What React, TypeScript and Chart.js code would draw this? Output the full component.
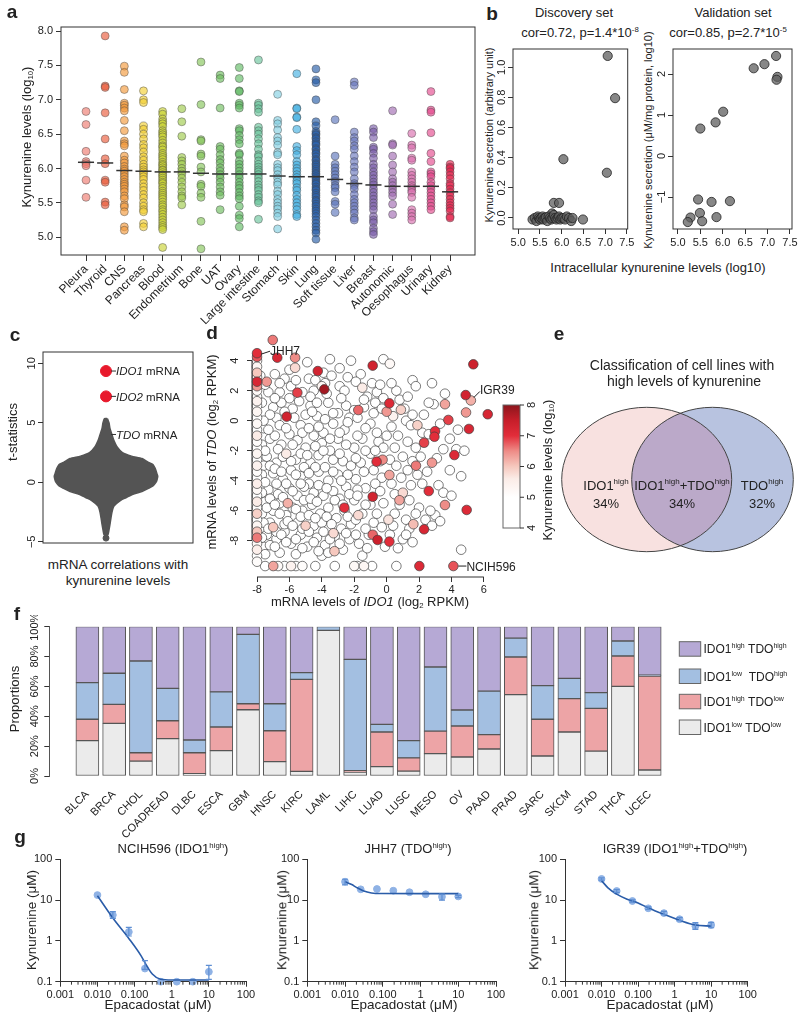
import React, { useEffect, useRef } from 'react';
import { Chart, registerables } from 'chart.js';

Chart.register(...registerables);
const FONT = '"Liberation Sans", Arial, Helvetica, sans-serif';
Chart.defaults.font.family = FONT;
Chart.defaults.color = '#222';

// ================= Panel a data =================
const aTissues = ['Pleura', 'Thyroid', 'CNS', 'Pancreas', 'Blood', 'Endometrium', 'Bone', 'UAT', 'Ovary', 'Large intestine', 'Stomach', 'Skin', 'Lung', 'Soft tissue', 'Liver', 'Breast', 'Autonomic', 'Oesophagus', 'Urinary', 'Kidney'];
const aColors = ['#ee7b70', '#ea5c3c', '#f39a3c', '#f2cf34', '#c9d335', '#9fcb4d', '#86c45a', '#6fbd5f', '#62bc66', '#6cc49c', '#84d0e2', '#45b0e2', '#285ea8', '#5d77bb', '#6a78bd', '#7d5fab', '#a16bb2', '#d86fae', '#e3498e', '#e5234d'];
const aPleura = [6.83, 6.64, 6.25, 6.10, 6.07, 6.04, 5.83, 5.58];
const aThyroid = [7.93, 7.20, 7.18, 6.81, 6.43, 6.14, 6.07, 5.83, 5.80, 5.51, 5.47];
const aCNS = [7.49, 7.40, 7.15, 6.95, 6.92, 6.88, 6.84, 6.70, 6.55, 6.40, 6.36, 6.33, 6.18, 6.12, 6.08, 6.03, 5.99, 5.96, 5.92, 5.88, 5.84, 5.80, 5.77, 5.74, 5.70, 5.66, 5.60, 5.56, 5.47, 5.44, 5.37, 5.15, 5.10];
const aPancreas = [7.13, 7.00, 6.96, 6.62, 6.57, 6.50, 6.43, 6.35, 6.30, 6.24, 6.17, 6.12, 6.06, 6.02, 5.98, 5.95, 5.92, 5.88, 5.84, 5.78, 5.73, 5.68, 5.62, 5.57, 5.50, 5.45, 5.40, 5.37, 5.20, 5.15];
const aBlood = [6.83, 6.79, 6.72, 6.68, 6.65, 6.61, 6.55, 6.52, 6.49, 6.46, 6.41, 6.37, 6.33, 6.31, 6.27, 6.22, 6.19, 6.16, 6.13, 6.09, 6.06, 6.04, 6.01, 5.98, 5.97, 5.94, 5.91, 5.89, 5.86, 5.83, 5.80, 5.78, 5.74, 5.71, 5.67, 5.64, 5.61, 5.58, 5.55, 5.51, 5.47, 5.44, 5.40, 5.37, 5.33, 5.29, 5.25, 5.21, 5.17, 5.14, 5.11, 4.85];
const aEndometrium = [6.87, 6.68, 6.47, 6.16, 6.11, 6.06, 6.00, 5.96, 5.92, 5.86, 5.80, 5.73, 5.66, 5.60, 5.57, 5.47];
const aBone = [7.55, 6.93, 6.42, 6.40, 6.21, 6.18, 6.02, 5.95, 5.77, 5.74, 5.64, 5.58, 5.23, 4.83];
const aUAT = [7.36, 7.31, 6.88, 6.32, 6.28, 6.20, 6.13, 6.08, 6.01, 5.96, 5.91, 5.86, 5.80, 5.73, 5.66, 5.61, 5.40];
const aOvary = [7.47, 7.31, 7.13, 7.12, 6.95, 6.92, 6.88, 6.58, 6.55, 6.48, 6.42, 6.36, 6.22, 6.20, 6.11, 6.06, 6.01, 5.96, 5.91, 5.86, 5.80, 5.75, 5.71, 5.65, 5.60, 5.56, 5.45, 5.32, 5.27, 5.15];
const aLargeInt = [7.58, 6.95, 6.92, 6.87, 6.82, 6.60, 6.55, 6.50, 6.43, 6.36, 6.28, 6.20, 6.17, 6.11, 6.06, 6.02, 5.98, 5.95, 5.91, 5.86, 5.81, 5.76, 5.72, 5.68, 5.62, 5.58, 5.53, 5.50, 5.26];
const aStomach = [7.08, 6.70, 6.65, 6.56, 6.45, 6.40, 6.34, 6.23, 6.20, 6.06, 6.01, 5.97, 5.91, 5.86, 5.80, 5.76, 5.67, 5.62, 5.55, 5.50, 5.45, 5.41, 5.35, 5.30, 5.12];
const aSkin = [7.38, 6.88, 6.87, 6.75, 6.74, 6.57, 6.32, 6.26, 6.20, 6.10, 6.05, 6.00, 5.96, 5.91, 5.87, 5.82, 5.78, 5.72, 5.68, 5.61, 5.55, 5.50, 5.45, 5.40, 5.33, 5.30];
const aLung = [7.45, 7.29, 7.25, 7.00, 6.68, 6.62, 6.54, 6.51, 6.49, 6.45, 6.43, 6.39, 6.36, 6.34, 6.29, 6.27, 6.23, 6.21, 6.17, 6.13, 6.11, 6.07, 6.05, 6.02, 5.99, 5.96, 5.93, 5.91, 5.88, 5.85, 5.82, 5.79, 5.77, 5.73, 5.70, 5.68, 5.64, 5.61, 5.58, 5.54, 5.52, 5.48, 5.45, 5.41, 5.38, 5.34, 5.30, 5.25, 5.20, 5.15, 5.10, 5.06, 4.97];
const aSoftTissue = [6.71, 6.18, 6.06, 6.01, 5.96, 5.91, 5.86, 5.81, 5.75, 5.72, 5.66, 5.52, 5.48, 5.36];
const aLiver = [7.26, 7.21, 6.53, 6.45, 6.40, 6.33, 6.28, 6.18, 6.10, 6.02, 5.95, 5.85, 5.78, 5.75, 5.70, 5.62, 5.55, 5.50, 5.45, 5.40, 5.35, 5.28, 5.25];
const aBreast = [6.58, 6.53, 6.45, 6.31, 6.28, 6.22, 6.15, 6.06, 6.01, 5.95, 5.90, 5.85, 5.80, 5.76, 5.70, 5.65, 5.60, 5.55, 5.50, 5.45, 5.40, 5.30, 5.25, 5.21, 5.13, 5.08, 5.04];
const aAutonomic = [6.84, 6.36, 6.34, 6.18, 6.05, 5.95, 5.85, 5.80, 5.75, 5.70, 5.65, 5.60, 5.48, 5.33];
const aOesophagus = [6.51, 6.34, 6.30, 6.15, 6.12, 5.95, 5.90, 5.85, 5.80, 5.75, 5.72, 5.68, 5.65, 5.58, 5.40, 5.35, 5.30, 5.25];
const aUrinary = [7.12, 6.85, 6.82, 6.52, 6.22, 6.10, 5.95, 5.92, 5.88, 5.80, 5.75, 5.70, 5.65, 5.60, 5.55, 5.50, 5.45, 5.40];
const aKidney = [6.06, 6.02, 6.00, 5.95, 5.90, 5.85, 5.78, 5.75, 5.70, 5.65, 5.60, 5.55, 5.50, 5.46, 5.42, 5.38, 5.30, 5.28];
const aValues = [aPleura, aThyroid, aCNS, aPancreas, aBlood, aEndometrium, aBone, aUAT, aOvary, aLargeInt, aStomach, aSkin, aLung, aSoftTissue, aLiver, aBreast, aAutonomic, aOesophagus, aUrinary, aKidney];
const aMedians = [6.09, 6.08, 5.97, 5.96, 5.95, 5.95, 5.93, 5.92, 5.92, 5.92, 5.89, 5.88, 5.88, 5.84, 5.78, 5.76, 5.74, 5.74, 5.74, 5.66];
const aYTicks = [5.0, 5.5, 6.0, 6.5, 7.0, 7.5, 8.0];

// ================= Panel b data =================
const bDiscX = [7.06, 7.23, 6.04, 7.04, 5.82, 5.94, 6.49, 5.78, 5.33, 5.38, 5.42, 5.45, 5.48, 5.50, 5.53, 5.56, 5.58, 5.61, 5.64, 5.67, 5.70, 5.73, 5.76, 5.79, 5.82, 5.85, 5.88, 5.91, 5.94, 5.97, 6.00, 6.04, 6.08, 6.12, 6.17, 6.22, 6.25];
const bDiscY = [1.075, 0.795, 0.39, 0.30, 0.10, 0.10, -0.01, 0.03, -0.01, 0.0, -0.02, 0.01, 0.0, -0.01, 0.0, 0.01, -0.01, 0.0, 0.005, -0.02, 0.01, 0.0, -0.01, 0.0, 0.02, 0.0, -0.01, 0.0, 0.01, -0.01, 0.0, 0.0, -0.01, 0.01, 0.0, -0.02, 0.0];
const bValX = [7.19, 6.93, 6.69, 7.22, 7.20, 6.01, 5.84, 5.50, 5.45, 5.75, 6.16, 5.49, 5.86, 5.28, 5.22, 5.54];
const bValY = [2.44, 2.24, 2.14, 1.93, 1.86, 1.08, 0.82, 0.67, -1.06, -1.12, -1.10, -1.39, -1.49, -1.50, -1.61, -1.59];
const bXTicks = [5.0, 5.5, 6.0, 6.5, 7.0, 7.5];
const bDiscYTicks = [0, 0.2, 0.4, 0.6, 0.8, 1.0];
const bDiscYLabels = ['0.0', '0.2', '0.4', '0.6', '0.8', '1.0'];
const bValYTicks = [-1, 0, 1, 2];
const bValYLabels = ['\u22121', '0', '1', '2'];

// ================= Panel c data =================
const cViolinT = [5.35, 5.0, 4.5, 4.0, 3.5, 3.0, 2.5, 2.2, 2.0, 1.7, 1.5, 1.2, 1.0, 0.7, 0.5, 0.2, 0.0, -0.3, -0.5, -0.8, -1.0, -1.3, -1.5, -2.0, -2.5, -3.0, -3.5, -4.0, -4.4];
const cViolinHW = [0.01, 0.02, 0.027, 0.04, 0.053, 0.073, 0.11, 0.17, 0.24, 0.28, 0.313, 0.327, 0.333, 0.34, 0.345, 0.34, 0.333, 0.313, 0.283, 0.233, 0.18, 0.133, 0.1, 0.053, 0.04, 0.033, 0.027, 0.02, 0.013];
const cOutlierT = [-4.69];
const cGenes = ['IDO1', 'IDO2', 'TDO'];
const cGeneT = [9.35, 7.22, 4.02];
const cYTicks = [-5, 0, 5, 10];
const cYLabels = ['\u22125', '0', '5', '10'];

// ================= Panel d data =================
// [IDO1 log2 RPKM, TDO log2 RPKM, kynurenine log10]
const dColumn = [[-8, 4.5, 7.0], [-8, 4.25, 6.8], [-8, 4.0, 5.2], [-8, 3.6, 5.3], [-8, 3.2, 6.0], [-8, 2.9, 5.5], [-8, 2.6, 7.2], [-8, 2.3, 6.4], [-8, 2.0, 5.2], [-8, 1.6, 5.0], [-8, 1.3, 5.4], [-8, 1.0, 5.1], [-8, 0.6, 5.3], [-8, 0.2, 5.0], [-8, -0.2, 5.2], [-8, -0.6, 5.0], [-8, -1.0, 5.6], [-8, -1.4, 5.1], [-8, -1.8, 5.0], [-8, -2.2, 5.3], [-8, -2.6, 5.0], [-8, -3.0, 5.4], [-8, -3.4, 5.1], [-8, -3.8, 5.0], [-8, -4.2, 5.5], [-8, -4.6, 5.2], [-8, -5.0, 5.0], [-8, -5.4, 5.6], [-8, -5.8, 5.1], [-8, -6.2, 5.9], [-8, -6.6, 5.0], [-8, -7.0, 5.3], [-8, -7.4, 6.0], [-8, -7.8, 6.6], [-8, -8.2, 5.2], [-8, -8.6, 5.5], [-8, -9.0, 5.0], [-8, -9.4, 5.1]];
const dFloor = [[-7.5, -9.69, 5.0], [-7.0, -9.69, 6.3], [-6.7, -9.69, 5.2], [-6.3, -9.69, 5.0], [-5.9, -9.69, 5.4], [-5.6, -9.69, 5.0], [-5.2, -9.69, 5.1], [-4.4, -9.69, 5.0], [-3.2, -9.69, 5.0], [-2.0, -9.69, 5.2], [-1.8, -9.69, 5.0], [-1.4, -9.69, 5.3], [-0.9, -9.69, 5.0], [0.6, -9.69, 5.0], [2.02, -9.69, 7.1], [4.12, -9.69, 6.8]];
const dCloudWhite = [[-6.0, 3.4, 5], [-4.9, 3.9, 5], [-3.5, 4.1, 5], [-2.2, 4.0, 5], [-0.2, 4.1, 5], [0.2, 3.8, 5.2], [-6.3, 2.8, 5], [-2.4, 2.9, 5], [-1.6, 3.1, 5], [1.6, 2.7, 5], [1.8, 2.3, 5], [-3.8, 2.5, 5], [-4.0, 2.3, 5.3],
  [-7.3, 1.9, 5], [-6.6, 1.9, 5], [-6.0, 1.5, 5], [-5.2, 1.9, 5], [-4.5, 2.0, 5], [-2.9, 2.3, 5], [-1.5, 2.2, 5.6], [-0.6, 1.9, 5], [0.6, 2.0, 5], [-1.2, 1.6, 5], [-0.2, 1.5, 5], [2.9, 1.1, 5], [2.6, 1.2, 5], [-2.5, 1.0, 5], [-3.6, 1.2, 5],
  [-7.0, 0.9, 5], [-6.5, 1.2, 5], [-5.8, 0.8, 5], [-5.0, 0.4, 5], [-4.3, 0.3, 5], [-3.0, 0.5, 5], [-2.0, 0.7, 5], [-1.4, 0.9, 5], [-0.8, 0.5, 5], [0.4, 0.3, 5.4], [1.2, 0.0, 5], [1.5, -0.3, 5], [2.2, -0.8, 5], [2.6, -0.9, 5], [-6.8, 0.2, 5], [-3.3, -0.2, 5], [-2.6, -0.6, 5],
  [-7.2, -1.2, 5], [-6.5, -1.6, 5], [-6.0, -0.9, 5], [-5.5, -1.3, 5], [-5.0, -1.8, 5], [-4.5, -1.0, 5], [-4.0, -1.5, 5], [-3.5, -2.0, 5], [-3.0, -1.2, 5], [-2.0, -1.8, 5], [-1.5, -1.2, 5], [-1.0, -2.2, 5], [-0.5, -1.4, 5], [0.5, -1.8, 5], [1.0, -2.4, 5], [-7.4, -2.4, 5], [-6.8, -2.8, 5], [-6.2, -2.2, 5.6], [-5.6, -2.6, 5], [-4.7, -2.8, 5], [-4.2, -2.3, 5], [-2.7, -2.7, 5], [-2.2, -3.0, 5], [-1.6, -2.8, 5], [3.5, -1.9, 5], [4.3, -1.9, 5], [1.6, -2.7, 5],
  [-7.0, -3.5, 5], [-6.4, -3.9, 5], [-5.9, -3.3, 5], [-5.3, -3.7, 5], [-4.8, -4.2, 5], [-4.2, -3.4, 5], [-3.6, -4.0, 5], [-3.0, -3.6, 5], [-2.5, -4.4, 5], [-1.9, -3.9, 5], [-1.3, -4.5, 5], [-0.8, -3.3, 5], [0.3, -4.2, 5], [0.9, -3.8, 5], [1.9, -3.6, 5], [-7.3, -4.6, 5], [-6.7, -4.9, 5], [-6.0, -4.5, 5], [-5.5, -5.0, 5], [-4.5, -4.8, 5], [-3.9, -5.0, 5], [-3.3, -4.7, 5], [3.2, -4.3, 5], [3.5, -4.8, 5], [4.6, -3.7, 5],
  [-7.5, -5.4, 5], [-7.0, -6.0, 5], [-6.6, -5.5, 5], [-6.2, -6.3, 5], [-5.8, -5.8, 5], [-5.2, -6.0, 5], [-4.6, -5.6, 5], [-4.1, -6.2, 5], [-3.6, -5.8, 5], [-3.1, -6.5, 5], [-2.6, -6.0, 5], [-2.0, -5.3, 5], [-1.5, -6.2, 5], [-1.0, -5.6, 5], [-0.2, -5.5, 5], [0.5, -6.2, 5], [1.2, -6.6, 5], [2.0, -5.8, 5], [-7.2, -6.8, 5], [-5.5, -6.8, 5], [-4.5, -7.0, 5], [-2.2, -6.9, 5], [-0.8, -6.8, 5], [1.4, -7.2, 5], [3.0, -6.3, 5], [3.3, -6.7, 5],
  [-7.4, -7.6, 5], [-6.8, -7.9, 5], [-6.3, -7.4, 5], [-5.9, -8.2, 5], [-5.3, -7.6, 5], [-4.9, -8.4, 5], [-4.3, -7.8, 5], [-3.8, -8.3, 5], [-3.2, -7.7, 5], [-2.7, -8.6, 5], [-2.3, -7.9, 5], [-1.7, -8.2, 5], [-1.1, -7.6, 5], [0.2, -7.6, 5], [1.0, -7.9, 5], [-6.6, -8.8, 5], [-5.6, -8.9, 5], [-4.0, -9.0, 5], [-1.5, -9.0, 5], [4.6, -8.6, 5], [1.6, -8.1, 5],
  [-7.6, -0.5, 5], [-7.7, 1.2, 5], [-7.6, -3.0, 5], [-7.7, -6.2, 5], [-7.6, -8.4, 5], [-6.9, -1.0, 5], [-5.3, -0.3, 5], [-4.7, 1.0, 5], [-3.9, -0.8, 5], [-5.1, -4.4, 5], [-6.3, -6.9, 5], [-4.0, -6.8, 5], [-2.9, -5.2, 5], [-1.8, -4.6, 5], [-0.4, -2.7, 5], [0.0, -1.0, 5], [-1.0, -0.2, 5], [-2.3, 0.2, 5]];
const dCloudWhite2 = [[-7.8, 3.0, 5], [-7.5, 2.4, 5], [-7.2, 0.4, 5], [-7.6, 0.0, 5], [-7.3, -0.6, 5], [-7.7, -1.6, 5], [-7.5, -2.0, 5], [-7.2, -3.0, 5], [-7.7, -3.6, 5], [-7.5, -4.1, 5], [-7.7, -4.8, 5], [-7.2, -5.2, 5], [-7.4, -5.8, 5], [-7.6, -6.8, 5], [-7.3, -7.2, 5], [-7.7, -7.8, 5], [-7.2, -8.3, 5], [-7.5, -8.9, 5],
  [-6.9, 3.1, 5], [-6.6, 2.5, 5], [-6.9, 1.5, 5], [-6.3, 0.6, 5], [-6.6, -0.3, 5], [-6.2, -0.5, 5], [-6.7, -1.9, 5], [-6.4, -2.4, 5], [-6.9, -3.2, 5], [-6.5, -3.4, 5], [-6.2, -4.2, 5], [-6.8, -4.2, 5], [-6.4, -5.1, 5], [-6.9, -5.6, 5], [-6.6, -6.2, 5], [-6.1, -6.7, 5], [-6.8, -7.4, 5], [-6.5, -7.6, 5], [-6.2, -8.1, 5], [-6.9, -8.4, 5],
  [-5.9, 2.3, 5], [-5.6, 2.7, 5], [-5.4, 1.3, 5], [-5.7, 0.2, 5], [-5.2, -0.8, 5], [-5.8, -1.6, 5], [-5.3, -2.2, 5], [-5.9, -2.7, 5], [-5.1, -3.1, 5], [-5.6, -3.6, 5], [-5.3, -4.2, 5], [-5.8, -4.7, 5], [-5.1, -5.3, 5], [-5.6, -5.9, 5], [-5.3, -6.4, 5], [-5.8, -7.0, 5], [-5.2, -7.2, 5], [-5.6, -7.9, 5], [-5.2, -8.5, 5],
  [-4.8, 2.8, 5], [-4.4, 2.7, 5], [-4.7, 1.6, 5], [-4.3, 1.2, 5], [-4.6, 0.6, 5], [-4.2, -0.4, 5], [-4.8, -0.5, 5], [-4.4, -1.7, 5], [-4.9, -2.3, 5], [-4.4, -3.1, 5], [-4.8, -3.5, 5], [-4.2, -4.3, 5], [-4.7, -5.2, 5], [-4.3, -5.4, 5], [-4.8, -6.3, 5], [-4.4, -6.5, 5], [-4.8, -7.4, 5], [-4.5, -8.1, 5], [-4.2, -8.7, 5],
  [-3.9, 3.2, 5], [-3.4, 3.0, 5], [-3.7, 1.8, 5], [-3.3, 0.5, 5], [-3.8, 0.1, 5], [-3.5, -1.2, 5], [-3.9, -2.0, 5], [-3.3, -2.6, 5], [-3.8, -3.1, 5], [-3.3, -3.4, 5], [-3.7, -4.5, 5], [-3.2, -5.3, 5], [-3.7, -6.4, 5], [-3.4, -6.9, 5], [-3.9, -7.4, 5], [-3.5, -7.9, 5], [-3.6, -8.8, 5],
  [-2.9, 3.5, 5], [-2.6, 2.0, 5], [-2.8, 1.5, 5], [-2.4, -0.1, 5], [-2.9, -0.8, 5], [-2.5, -1.6, 5], [-2.9, -2.2, 5], [-2.4, -3.6, 5], [-2.8, -4.0, 5], [-2.3, -4.9, 5], [-2.7, -5.6, 5], [-2.4, -6.4, 5], [-2.8, -7.2, 5], [-2.5, -7.5, 5], [-2.9, -8.2, 5],
  [-1.9, 2.6, 5], [-1.4, 1.4, 5], [-1.8, 0.2, 5], [-1.3, -0.5, 5], [-1.8, -1.0, 5], [-1.3, -2.0, 5], [-1.9, -2.5, 5], [-1.4, -3.4, 5], [-1.8, -5.0, 5], [-1.3, -5.6, 5], [-1.9, -6.6, 5], [-1.3, -7.2, 5], [-1.9, -7.6, 5], [-1.2, -8.5, 5],
  [-0.9, 2.5, 5], [-0.4, 2.4, 5], [-0.7, 1.2, 5], [-0.3, 0.8, 5], [-0.6, -0.8, 5], [-0.2, -1.8, 5], [-0.7, -2.0, 5], [-0.3, -3.8, 5], [-0.7, -4.2, 5], [-0.4, -4.7, 5], [-0.6, -6.2, 5], [-0.3, -7.1, 5], [-0.1, -8.4, 5],
  [0.3, 2.5, 5], [0.8, 1.4, 5], [0.3, -0.4, 5], [0.7, -1.0, 5], [0.2, -2.6, 5], [0.6, -3.0, 5], [0.5, -4.9, 5], [0.8, -5.6, 5], [0.4, -7.0, 5], [0.7, -8.5, 5],
  [1.3, 1.6, 5], [1.1, 0.8, 5], [1.6, 0.4, 5], [1.3, -1.4, 5], [1.8, -1.8, 5], [1.3, -3.3, 5], [1.5, -4.3, 5], [1.4, -5.3, 5], [1.8, -6.2, 5], [1.2, -7.6, 5],
  [2.3, 0.4, 5], [2.1, -2.4, 5], [2.5, -3.4, 5], [2.2, -4.2, 5], [2.7, -6.0, 5], [2.4, -6.6, 5], [2.8, -7.0, 5], [3.3, -0.2, 5], [3.1, -2.5, 5], [3.9, -1.2, 5], [3.9, -3.3, 5], [4.0, -5.0, 5], [4.4, -0.6, 5], [4.8, -2.0, 5], [3.6, 1.8, 5], [2.8, 2.5, 5]];
const dCloudColored = [[-7.03, 5.38, 6.6], [-6.75, 4.2, 7.2], [-5.65, 4.2, 6.5], [-5.65, 3.53, 5.8], [-7.4, 2.6, 6.4], [-6.17, 0.27, 7.3], [-5.51, 1.87, 6.9], [-4.25, 3.31, 7.3], [-3.85, 2.09, 7.8], [-0.86, 3.67, 7.3], [0.17, 1.16, 7.1], [-1.75, 0.71, 6.7], [0.0, 0.6, 6.4], [0.88, 0.73, 5.9], [5.35, 3.76, 7.4], [4.88, 1.71, 7.3], [5.2, 1.35, 6.2], [6.24, 0.43, 7.2], [4.9, 0.55, 6.4], [3.81, 0.05, 6.9], [3.6, 1.1, 6.3], [5.08, -0.55, 7.2], [2.99, -0.7, 7.0], [2.95, -1.07, 7.0], [2.31, -1.47, 6.9], [4.18, -2.29, 7.1], [2.8, -2.8, 6.4], [1.81, -3.0, 6.6], [2.6, -4.69, 7.0], [3.6, -5.62, 6.5], [4.94, -5.95, 7.1], [2.31, -7.24, 7.2], [0.17, -8.06, 7.0], [-0.56, -7.95, 7.4], [-0.86, -7.6, 6.7], [-0.86, -5.07, 7.3], [-2.61, -5.8, 7.0], [-6.1, -5.5, 6.2], [-0.62, -2.73, 7.0], [-0.25, -2.6, 6.5], [-1.75, -6.3, 5.8], [0.17, -3.62, 6.3], [0.79, -5.3, 6.3], [1.9, -0.3, 5.9], [1.0, -4.8, 5.8], [-3.22, -8.7, 6.0], [1.65, -6.9, 6.1], [0.11, -6.6, 5.7], [-3.28, -7.5, 5.8], [-7.0, -7.1, 6.0], [-5.0, -7.0, 5.9]];
const dNamed = ['JHH7', 'IGR39', 'NCIH596'];
const dNamedX = [-8, 5.2, 4.12];
const dNamedY = [4.5, 1.35, -9.69];
const dXTicks = [-8, -6, -4, -2, 0, 2, 4, 6];
const dXLabels = ['-8', '-6', '-4', '-2', '0', '2', '4', '6'];
const dYTicks = [-8, -6, -4, -2, 0, 2, 4];
const dYLabels = ['-8', '-6', '-4', '-2', '0', '2', '4'];
const dCbValues = [4, 5, 5.6, 6, 6.5, 7, 7.5, 8];
const dCbColors = [[255, 255, 255], [255, 255, 255], [251, 236, 231], [246, 200, 190], [238, 140, 135], [226, 45, 58], [198, 30, 42], [140, 22, 28]];
const dCbTicks = [4, 5, 6, 7, 8];

// ================= Panel e data =================
const eSets = [[['IDO1', 'n'], ['high', 'sup']], [['IDO1', 'n'], ['high', 'sup'], ['+TDO', 'n'], ['high', 'sup']], [['TDO', 'n'], ['high', 'sup']]];
const ePct = [34, 34, 32];

// ================= Panel f data =================
const fCancers = ['BLCA', 'BRCA', 'CHOL', 'COADREAD', 'DLBC', 'ESCA', 'GBM', 'HNSC', 'KIRC', 'LAML', 'LIHC', 'LUAD', 'LUSC', 'MESO', 'OV', 'PAAD', 'PRAD', 'SARC', 'SKCM', 'STAD', 'THCA', 'UCEC'];
const fLowLow = [23.7, 35.3, 10, 25, 1.6, 17, 44.4, 9.6, 3.1, 97.5, 2.7, 6.3, 3.3, 15, 12.7, 18.1, 54.5, 13.4, 29.5, 16.7, 60, 4];
const fHighLow = [14.3, 12.7, 5.6, 12, 14, 15.8, 4, 20.7, 61.6, 0, 0.8, 23.2, 8.8, 15.1, 20.8, 9.6, 25.2, 24.6, 22.3, 28.6, 20.4, 63];
const fLowHigh = [24.5, 20.8, 61.4, 21.7, 8.5, 23.5, 46.5, 18.1, 4.5, 2.5, 74.6, 5.1, 11.6, 42.9, 10.7, 29.2, 12.7, 22.5, 13.6, 10.5, 10, 0.6];
const fHighHigh = [37.5, 31.2, 23, 41.3, 75.9, 43.7, 5.1, 51.6, 30.8, 0, 21.9, 65.4, 76.3, 27, 55.8, 43.1, 7.6, 39.5, 34.6, 44.2, 9.6, 32.4];
const fYTicks = [0, 20, 40, 60, 80, 100];
const fYLabels = ['0%', '20%', '40%', '60%', '80%', '100%'];
const fLegend = [
  [['IDO1', 'n'], ['high', 'sup'], [' TDO', 'n'], ['high', 'sup']],
  [['IDO1', 'n'], ['low', 'sup'], ['  TDO', 'n'], ['high', 'sup']],
  [['IDO1', 'n'], ['high', 'sup'], [' TDO', 'n'], ['low', 'sup']],
  [['IDO1', 'n'], ['low', 'sup'], [' TDO', 'n'], ['low', 'sup']],
];
const fColors = ['#b6a9d5', '#a3bfe1', '#eda4a6', '#ebebeb'];

// ================= Panel g data =================
const gDoses = [0.01, 0.026, 0.07, 0.19, 0.51, 1.37, 3.7, 10];
const gNcihMean = [13.3, 4.3, 1.66, 0.21, 0.10, 0.10, 0.10, 0.175];
const gNcihLo = [12.6, 3.57, 1.32, 0.20, 0.10, 0.10, 0.10, 0.114];
const gNcihHi = [14.0, 5.2, 2.15, 0.33, 0.10, 0.10, 0.10, 0.25];
const gNcihFitX = [0.01, 0.026, 0.07, 0.15, 0.2, 0.3, 0.5, 1, 3, 10];
const gNcihFitY = [12.8, 3.65, 1.15, 0.43, 0.27, 0.155, 0.115, 0.11, 0.11, 0.11];
const gJhhMean = [28.3, 18.4, 18.7, 17, 15.6, 13.9, 12.1, 12.3];
const gJhhLo = [23.5, 17.5, 17.8, 16.2, 14.9, 13.2, 10.0, 11.5];
const gJhhHi = [32.4, 19.3, 19.6, 17.8, 16.3, 14.6, 14.1, 13.1];
const gJhhFitX = [0.01, 0.015, 0.02, 0.03, 0.05, 0.1, 1, 10];
const gJhhFitY = [28, 24, 20.5, 17, 15, 14.5, 14.4, 14.4];
const gIgrMean = [33, 16.7, 9.5, 6.3, 4.8, 3.4, 2.3, 2.45];
const gIgrLo = [31, 15.5, 8.9, 5.9, 4.4, 3.15, 1.92, 2.1];
const gIgrHi = [35, 18, 10.2, 6.8, 5.3, 3.7, 2.8, 2.85];
const gIgrFitX = [0.01, 0.015, 0.026, 0.05, 0.1, 0.2, 0.5, 1.37, 3.7, 10];
const gIgrFitY = [30, 20, 14, 10.5, 8.5, 6.3, 4.5, 3.2, 2.45, 2.3];
const gXTicks = [0.001, 0.01, 0.1, 1, 10, 100];
const gXLabels = ['0.001', '0.010', '0.100', '1', '10', '100'];
const gYTicks = [0.1, 1, 10, 100];
const gYLabels = ['0.1', '1', '10', '100'];
const gMinorMult = [2, 3, 4, 5, 6, 7, 8, 9];
const gDecades = [0.001, 0.01, 0.1, 1, 10];

// ================= helpers =================
type Box = { left: number; top: number; width: number; height: number };
type Area = { L: number; T: number; R: number; B: number };

function geo(box: Box, area: Area) {
  const xh = box.top + box.height - area.B;
  const yw = area.L - box.left;
  return {
    padding: { left: 0, top: area.T - box.top, right: box.left + box.width - area.R, bottom: 0 },
    xFit: (s: any) => { s.height = xh; s.paddingLeft = 0; s.paddingRight = 0; s.paddingTop = 0; s.paddingBottom = 0; },
    yFit: (s: any) => { s.width = yw; s.paddingLeft = 0; s.paddingRight = 0; s.paddingTop = 0; s.paddingBottom = 0; },
  };
}

const tickGrid = (len = 5) => ({ display: true, drawOnChartArea: false, drawTicks: true, tickLength: len, color: '#333', lineWidth: 1 });
const setTicks = (vals: number[]) => (s: any) => { s.ticks = vals.map((v) => ({ value: v })); };

function baseOptions(g: any, scales: any) {
  return {
    responsive: false,
    animation: false,
    devicePixelRatio: 1,
    events: [],
    layout: { padding: g.padding },
    plugins: { legend: { display: false }, tooltip: { enabled: false } },
    scales,
  };
}

function drawBox(c: any) {
  const { left, top, right, bottom } = c.chartArea;
  const ctx = c.ctx;
  ctx.save();
  ctx.strokeStyle = '#333';
  ctx.lineWidth = 1;
  ctx.strokeRect(left, top, right - left, bottom - top);
  ctx.restore();
}

function rotYLabels(c: any, ticks: number[], labels: string[], off: number, size: number) {
  const ctx = c.ctx, ys = c.scales.y, x = c.chartArea.left - off;
  ctx.save();
  ctx.font = `${size}px ${FONT}`;
  ctx.fillStyle = '#222';
  ctx.textAlign = 'center';
  ctx.textBaseline = 'middle';
  ticks.forEach((v, i) => {
    const y = ys.getPixelForValue(v);
    ctx.save();
    ctx.translate(x, y);
    ctx.rotate(-Math.PI / 2);
    ctx.fillText(labels[i], 0, 0);
    ctx.restore();
  });
  ctx.restore();
}

function fontFor(kind: string, size: number) {
  if (kind === 'sup' || kind === 'sub') return `${Math.round(size * 0.6)}px ${FONT}`;
  if (kind === 'i') return `italic ${size}px ${FONT}`;
  return `${size}px ${FONT}`;
}
function drawRich(ctx: any, segs: any[], x: number, yMid: number, size: number, align: string) {
  ctx.save();
  ctx.fillStyle = '#222';
  ctx.textBaseline = 'alphabetic';
  ctx.textAlign = 'left';
  let w = 0;
  segs.forEach(([t, k]: any) => { ctx.font = fontFor(k, size); w += ctx.measureText(t).width; });
  let cx = align === 'center' ? x - w / 2 : align === 'right' ? x - w : x;
  const base = yMid + size * 0.36;
  segs.forEach(([t, k]: any) => {
    ctx.font = fontFor(k, size);
    const dy = k === 'sup' ? -size * 0.4 : k === 'sub' ? size * 0.22 : 0;
    ctx.fillText(t, cx, base + dy);
    cx += ctx.measureText(t).width;
  });
  ctx.restore();
}

function kColor(k: number) {
  const v = dCbValues, c = dCbColors;
  let col = c[c.length - 1];
  if (k <= v[0]) col = c[0];
  else {
    for (let i = 0; i < v.length - 1; i++) {
      if (k <= v[i + 1]) {
        const t = (k - v[i]) / (v[i + 1] - v[i]);
        col = [0, 1, 2].map((j) => Math.round(c[i][j] + (c[i + 1][j] - c[i][j]) * t));
        break;
      }
    }
  }
  return `rgb(${col[0]},${col[1]},${col[2]})`;
}

function ChartCanvas({ box, make }: { box: Box; make: () => any }) {
  const ref = useRef<HTMLCanvasElement>(null);
  useEffect(() => {
    const chart = new Chart(ref.current as any, make());
    return () => chart.destroy();
  }, []);
  return (
    <canvas
      ref={ref}
      width={box.width}
      height={box.height}
      style={{ position: 'absolute', left: box.left, top: box.top, width: box.width, height: box.height }}
    />
  );
}

const Sup = ({ c }: any) => <span style={{ fontSize: '0.6em', verticalAlign: '0.6em', lineHeight: 0 }}>{c}</span>;
const Sub = ({ c }: any) => <span style={{ fontSize: '0.6em', verticalAlign: '-0.3em', lineHeight: 0 }}>{c}</span>;

function Txt({ x, y, s = 13, r = 0, b = false, a = 'c', children }: any) {
  const tx = a === 'c' ? '-50%' : a === 'l' ? '0%' : '-100%';
  return (
    <div
      style={{
        position: 'absolute', left: x, top: y, transform: `translate(${tx},-50%) rotate(${r}deg)`,
        fontFamily: FONT, fontSize: s, fontWeight: b ? 700 : 400, whiteSpace: 'nowrap', lineHeight: 1, color: '#222',
      }}
    >
      {children}
    </div>
  );
}

// ================= chart configs =================
const A_BOX = { left: 0, top: 0, width: 480, height: 332 };
const A_AREA = { L: 61, T: 27, R: 475, B: 255 };
function makeA() {
  const g = geo(A_BOX, A_AREA);
  return {
    type: 'scatter',
    data: {
      datasets: aValues.map((vals, i) => ({
        data: vals.map((v) => ({ x: i, y: v })),
        backgroundColor: aColors[i] + 'a6',
        borderColor: 'rgba(70,70,70,0.55)',
        borderWidth: 0.8,
        pointRadius: 4,
      })),
    },
    options: baseOptions(g, {
      x: {
        type: 'linear', min: -1.305, max: 20.3, afterFit: g.xFit, afterBuildTicks: setTicks(aTissues.map((_, i) => i)),
        ticks: { autoSkip: false, minRotation: 45, maxRotation: 45, font: { size: 12 }, padding: 1, callback: (v: any) => aTissues[v] ?? '' },
        grid: tickGrid(6), border: { display: false },
      },
      y: {
        type: 'linear', min: 4.74, max: 8.06, afterFit: g.yFit, afterBuildTicks: setTicks(aYTicks),
        ticks: { font: { size: 11 }, callback: (v: any) => Number(v).toFixed(1) },
        grid: tickGrid(5), border: { display: false },
      },
    }),
    plugins: [{
      id: 'aExtra',
      afterDatasetsDraw(c: any) {
        const ctx = c.ctx, X = c.scales.x, Y = c.scales.y;
        ctx.save();
        ctx.strokeStyle = '#333';
        ctx.lineWidth = 1.5;
        aMedians.forEach((m, i) => {
          const y = Y.getPixelForValue(m);
          ctx.beginPath();
          ctx.moveTo(X.getPixelForValue(i - 0.42), y);
          ctx.lineTo(X.getPixelForValue(i + 0.42), y);
          ctx.stroke();
        });
        ctx.restore();
        drawBox(c);
      },
    }],
  };
}

const B1_BOX = { left: 495, top: 40, width: 140, height: 215 };
const B1_AREA = { L: 513, T: 49, R: 627.7, B: 229 };
const B2_BOX = { left: 655, top: 40, width: 145, height: 215 };
const B2_AREA = { L: 673, T: 49, R: 792, B: 229 };
function makeB(box: Box, area: Area, xs: number[], ys: number[], xr: number[], yr: number[], yt: number[], yl: string[]) {
  const g = geo(box, area);
  return {
    type: 'scatter',
    data: {
      datasets: [{
        data: xs.map((x, i) => ({ x, y: ys[i] })),
        backgroundColor: 'rgba(95,95,95,0.75)', borderColor: '#222', borderWidth: 0.8, pointRadius: 4.6, clip: false,
      }],
    },
    options: baseOptions(g, {
      x: {
        type: 'linear', min: xr[0], max: xr[1], afterFit: g.xFit, afterBuildTicks: setTicks(bXTicks),
        ticks: { font: { size: 11 }, padding: 2, maxRotation: 0, callback: (v: any) => Number(v).toFixed(1) },
        grid: tickGrid(5), border: { display: false },
      },
      y: {
        type: 'linear', min: yr[0], max: yr[1], afterFit: g.yFit, afterBuildTicks: setTicks(yt),
        ticks: { display: false }, grid: tickGrid(5), border: { display: false },
      },
    }),
    plugins: [{ id: 'bExtra', afterDraw(c: any) { drawBox(c); rotYLabels(c, yt, yl, 11, 11); } }],
  };
}

const C_BOX = { left: 20, top: 345, width: 180, height: 205 };
const C_AREA = { L: 43, T: 352, R: 193, B: 543 };
function makeC() {
  const g = geo(C_BOX, C_AREA);
  const right = cViolinT.map((t, i) => ({ x: cViolinHW[i], y: t }));
  const left = cViolinT.map((t, i) => ({ x: -cViolinHW[i], y: t })).reverse();
  const poly = right.concat(left, [right[0]]);
  return {
    type: 'scatter',
    data: {
      datasets: [
        { data: poly, showLine: true, fill: 'shape', backgroundColor: '#545454', borderColor: '#545454', borderWidth: 1.5, pointRadius: 0, tension: 0.2 },
        { data: cOutlierT.map((t) => ({ x: 0, y: t })), backgroundColor: '#545454', borderColor: '#545454', pointRadius: 3 },
        { data: cGeneT.map((t) => ({ x: 0, y: t })), backgroundColor: '#e8192c', borderColor: '#e8192c', pointRadius: 5.5 },
      ],
    },
    options: baseOptions(g, {
      x: { type: 'linear', min: -0.42, max: 0.58, afterFit: g.xFit, ticks: { display: false }, grid: { display: false }, border: { display: false } },
      y: {
        type: 'linear', min: -5.1, max: 10.95, afterFit: g.yFit, afterBuildTicks: setTicks(cYTicks),
        ticks: { display: false }, grid: tickGrid(5), border: { display: false },
      },
    }),
    plugins: [{
      id: 'cExtra',
      afterDraw(c: any) {
        drawBox(c);
        rotYLabels(c, cYTicks, cYLabels, 11, 11);
        const ctx = c.ctx, X = c.scales.x, Y = c.scales.y;
        cGenes.forEach((gname, i) => {
          const px = X.getPixelForValue(0), py = Y.getPixelForValue(cGeneT[i]);
          ctx.save();
          ctx.strokeStyle = '#333';
          ctx.lineWidth = 1;
          ctx.beginPath();
          ctx.moveTo(px + 5, py);
          ctx.lineTo(px + 10, py);
          ctx.stroke();
          ctx.restore();
          drawRich(ctx, [[gname, 'i'], [' mRNA', 'n']], px + 10, py, 11.5, 'left');
        });
      },
    }],
  };
}

const D_BOX = { left: 222, top: 330, width: 338, height: 265 };
const D_AREA = { L: 252, T: 337, R: 490, B: 577 };
const D_CB = { x0: 503, x1: 520, yTop: 405, yBot: 528 };
function makeD() {
  const g = geo(D_BOX, D_AREA);
  const pts = dCloudWhite.concat(dCloudWhite2, dColumn, dFloor, dCloudColored).slice().sort((p, q) => p[2] - q[2]);
  return {
    type: 'scatter',
    data: {
      datasets: [{
        data: pts.map((p) => ({ x: p[0], y: p[1] })),
        pointBackgroundColor: pts.map((p) => kColor(p[2])),
        pointBorderColor: 'rgba(60,60,60,0.85)', pointBorderWidth: 0.8, pointRadius: 4.8, clip: false,
      }],
    },
    options: baseOptions(g, {
      x: {
        type: 'linear', min: -8.31, max: 6.38, afterFit: g.xFit, afterBuildTicks: setTicks(dXTicks),
        ticks: { font: { size: 11, family: '"Liberation Sans Narrow", ' + FONT }, padding: 1, maxRotation: 0, callback: (v: any, i: number) => dXLabels[i] },
        grid: tickGrid(5), border: { display: false },
      },
      y: {
        type: 'linear', min: -10.42, max: 5.58, afterFit: g.yFit, afterBuildTicks: setTicks(dYTicks),
        ticks: { display: false }, grid: tickGrid(5), border: { display: false },
      },
    }),
    plugins: [{
      id: 'dExtra',
      afterDraw(c: any) {
        const ctx = c.ctx, X = c.scales.x, Y = c.scales.y, A = c.chartArea;
        ctx.save();
        ctx.strokeStyle = '#333';
        ctx.lineWidth = 1;
        ctx.beginPath();
        ctx.moveTo(A.left, Y.getPixelForValue(dYTicks[dYTicks.length - 1]));
        ctx.lineTo(A.left, Y.getPixelForValue(dYTicks[0]));
        ctx.moveTo(X.getPixelForValue(dXTicks[0]), A.bottom);
        ctx.lineTo(X.getPixelForValue(dXTicks[dXTicks.length - 1]), A.bottom);
        ctx.stroke();
        ctx.restore();
        rotYLabels(c, dYTicks, dYLabels, 17, 11);
        dNamed.forEach((nm, i) => {
          const px = X.getPixelForValue(dNamedX[i]), py = Y.getPixelForValue(dNamedY[i]);
          let a: number[], t: number[];
          if (i === 0) { a = [px + 4, py + 1, px + 13, py - 2]; t = [px + 13, py - 3]; }
          else if (i === 1) { a = [px + 3, py - 3, px + 9, py - 9]; t = [px + 9, py - 11]; }
          else { a = [px + 5, py, px + 13, py]; t = [px + 13, py + 1]; }
          ctx.save();
          ctx.strokeStyle = '#222';
          ctx.lineWidth = 1;
          ctx.beginPath();
          ctx.moveTo(a[0], a[1]);
          ctx.lineTo(a[2], a[3]);
          ctx.stroke();
          ctx.restore();
          drawRich(ctx, [[nm, 'n']], t[0], t[1], 12, 'left');
        });
        const ox = D_BOX.left, oy = D_BOX.top;
        const x0 = D_CB.x0 - ox, x1 = D_CB.x1 - ox, yT = D_CB.yTop - oy, yB = D_CB.yBot - oy;
        const lo = dCbValues[0], hi = dCbValues[dCbValues.length - 1];
        const grad = ctx.createLinearGradient(0, yB, 0, yT);
        dCbValues.forEach((v, i) => grad.addColorStop((v - lo) / (hi - lo), `rgb(${dCbColors[i].join(',')})`));
        ctx.save();
        ctx.fillStyle = grad;
        ctx.fillRect(x0, yT, x1 - x0, yB - yT);
        ctx.strokeStyle = '#666';
        ctx.lineWidth = 1;
        ctx.strokeRect(x0, yT, x1 - x0, yB - yT);
        ctx.strokeStyle = '#333';
        ctx.beginPath();
        dCbTicks.forEach((v) => {
          const y = yB - ((v - lo) / (hi - lo)) * (yB - yT);
          ctx.moveTo(x1, y);
          ctx.lineTo(x1 + 4, y);
        });
        ctx.stroke();
        ctx.font = `11px ${FONT}`;
        ctx.fillStyle = '#222';
        ctx.textAlign = 'center';
        ctx.textBaseline = 'middle';
        dCbTicks.forEach((v) => {
          const y = yB - ((v - lo) / (hi - lo)) * (yB - yT);
          ctx.save();
          ctx.translate(x1 + 12, y);
          ctx.rotate(-Math.PI / 2);
          ctx.fillText(String(v), 0, 0);
          ctx.restore();
        });
        ctx.restore();
      },
    }],
  };
}

const E_BOX = { left: 555, top: 395, width: 245, height: 170 };
const E_LEFT = { cx: 646.7, cy: 479.5, rx: 85, ry: 72.2 };
const E_RIGHT = { cx: 712.5, cy: 479.5, rx: 80.8, ry: 72.2 };
const E_LABEL_X = [606, 682, 762];
const E_LABEL_Y = [485, 503];
function makeE() {
  return {
    type: 'scatter',
    data: { datasets: [] },
    options: {
      responsive: false, animation: false, devicePixelRatio: 1, events: [],
      layout: { padding: 0 },
      plugins: { legend: { display: false }, tooltip: { enabled: false } },
      scales: {
        x: { type: 'linear', display: false, min: E_BOX.left, max: E_BOX.left + E_BOX.width },
        y: { type: 'linear', display: false, min: E_BOX.top, max: E_BOX.top + E_BOX.height, reverse: true },
      },
    },
    plugins: [{
      id: 'venn',
      afterDraw(c: any) {
        const ctx = c.ctx, X = c.scales.x, Y = c.scales.y;
        const path = (e: any) => {
          ctx.beginPath();
          ctx.ellipse(X.getPixelForValue(e.cx), Y.getPixelForValue(e.cy), X.getPixelForValue(e.cx + e.rx) - X.getPixelForValue(e.cx), Math.abs(Y.getPixelForValue(e.cy + e.ry) - Y.getPixelForValue(e.cy)), 0, 0, Math.PI * 2);
        };
        ctx.save();
        path(E_LEFT); ctx.fillStyle = '#f8e1e0'; ctx.fill();
        path(E_RIGHT); ctx.fillStyle = '#b8c3e0'; ctx.fill();
        ctx.save(); path(E_LEFT); ctx.clip(); path(E_RIGHT); ctx.fillStyle = '#bba9c9'; ctx.fill(); ctx.restore();
        ctx.strokeStyle = '#444'; ctx.lineWidth = 1;
        path(E_LEFT); ctx.stroke();
        path(E_RIGHT); ctx.stroke();
        ctx.restore();
        eSets.forEach((segs, i) => {
          const x = X.getPixelForValue(E_LABEL_X[i]);
          drawRich(ctx, segs, x, Y.getPixelForValue(E_LABEL_Y[0]), 13, 'center');
          drawRich(ctx, [[ePct[i] + '%', 'n']], x, Y.getPixelForValue(E_LABEL_Y[1]), 13, 'center');
        });
      },
    }],
  };
}

const F_BOX = { left: 0, top: 615, width: 800, height: 225 };
const F_AREA = { L: 49.3, T: 626.7, R: 676, B: 776 };
const F_LEG = { x: 679.3, w: 21.4, h: 14.5, tops: [641.7, 669, 694.3, 720], tx: 703.5 };
function makeF() {
  const g = geo(F_BOX, F_AREA);
  const series = [fLowLow, fHighLow, fLowHigh, fHighHigh];
  const cols = [fColors[3], fColors[2], fColors[1], fColors[0]];
  return {
    type: 'bar',
    data: {
      datasets: series.map((s, k) => ({
        data: s.map((v, i) => ({ x: i + 1, y: v })),
        backgroundColor: cols[k], borderColor: '#555', borderWidth: 1, borderSkipped: false, barThickness: 23,
      })),
    },
    options: baseOptions(g, {
      x: {
        type: 'linear', stacked: true, min: 0.11, max: 22.45, afterFit: g.xFit, afterBuildTicks: setTicks(fCancers.map((_, i) => i + 1)),
        ticks: { autoSkip: false, minRotation: 45, maxRotation: 45, font: { size: 11 }, padding: 4, callback: (v: any) => fCancers[v - 1] ?? '' },
        grid: { display: false }, border: { display: false },
      },
      y: {
        type: 'linear', stacked: true, min: 0, max: 100, afterFit: g.yFit, afterBuildTicks: setTicks(fYTicks),
        ticks: { display: false }, grid: tickGrid(5), border: { display: true, color: '#555' },
      },
    }),
    plugins: [{
      id: 'fExtra',
      afterDraw(c: any) {
        rotYLabels(c, fYTicks, fYLabels, 14, 11);
        const ctx = c.ctx, ox = F_BOX.left, oy = F_BOX.top;
        fLegend.forEach((segs, i) => {
          const t = F_LEG.tops[i] - oy;
          ctx.save();
          ctx.fillStyle = fColors[i];
          ctx.fillRect(F_LEG.x - ox, t, F_LEG.w, F_LEG.h);
          ctx.strokeStyle = '#666';
          ctx.lineWidth = 1;
          ctx.strokeRect(F_LEG.x - ox, t, F_LEG.w, F_LEG.h);
          ctx.restore();
          drawRich(ctx, segs, F_LEG.tx - ox, t + F_LEG.h / 2, 12, 'left');
        });
      },
    }],
  };
}

const G_AREAS = [
  { box: { left: 20, top: 852, width: 235, height: 148 }, area: { L: 60.3, T: 859.3, R: 246, B: 981.7 } },
  { box: { left: 265, top: 852, width: 240, height: 148 }, area: { L: 307.3, T: 859.3, R: 496, B: 981.7 } },
  { box: { left: 525, top: 852, width: 235, height: 148 }, area: { L: 565, T: 859.3, R: 747.7, B: 981.7 } },
];
function makeG(k: number, mean: number[], lo: number[], hi: number[], fx: number[], fy: number[]) {
  const { box, area } = G_AREAS[k];
  const g = geo(box, area);
  return {
    type: 'scatter',
    data: {
      datasets: [
        { data: fx.map((x, i) => ({ x, y: fy[i] })), showLine: true, borderColor: '#2a5ca8', borderWidth: 1.6, pointRadius: 0, cubicInterpolationMode: 'monotone', fill: false },
        { data: gDoses.map((x, i) => ({ x, y: mean[i] })), backgroundColor: '#8fb2e5', borderColor: '#8fb2e5', pointRadius: 3.4, clip: false },
      ],
    },
    options: baseOptions(g, {
      x: {
        type: 'logarithmic', min: 0.001, max: 100, afterFit: g.xFit, afterBuildTicks: setTicks(gXTicks),
        ticks: { font: { size: 11 }, padding: 2, maxRotation: 0, autoSkip: false, callback: (v: any, i: number) => gXLabels[i] },
        grid: tickGrid(5), border: { display: true, color: '#333' },
      },
      y: {
        type: 'logarithmic', min: 0.1, max: 100, afterFit: g.yFit, afterBuildTicks: setTicks(gYTicks),
        ticks: { font: { size: 11 }, padding: 3, autoSkip: false, callback: (v: any, i: number) => gYLabels[i] },
        grid: tickGrid(5), border: { display: true, color: '#333' },
      },
    }),
    plugins: [{
      id: 'gExtra',
      afterDatasetsDraw(c: any) {
        const ctx = c.ctx, X = c.scales.x, Y = c.scales.y, A = c.chartArea;
        ctx.save();
        ctx.strokeStyle = '#333';
        ctx.lineWidth = 1;
        ctx.beginPath();
        gDecades.forEach((d) => gMinorMult.forEach((m) => {
          const px = X.getPixelForValue(m * d);
          ctx.moveTo(px, A.bottom);
          ctx.lineTo(px, A.bottom + 3);
        }));
        ctx.stroke();
        ctx.strokeStyle = '#5f8fd3';
        ctx.lineWidth = 1.2;
        ctx.beginPath();
        gDoses.forEach((x, i) => {
          const px = X.getPixelForValue(x), y1 = Y.getPixelForValue(lo[i]), y2 = Y.getPixelForValue(hi[i]);
          if (Math.abs(y1 - y2) < 2) return;
          ctx.moveTo(px, y1); ctx.lineTo(px, y2);
          ctx.moveTo(px - 3, y1); ctx.lineTo(px + 3, y1);
          ctx.moveTo(px - 3, y2); ctx.lineTo(px + 3, y2);
        });
        ctx.stroke();
        ctx.restore();
      },
    }],
  };
}

export default function App() {
  return (
    <div style={{ position: 'absolute', left: 0, top: 0, width: 800, height: 1019, background: '#fff', overflow: 'hidden' }}>
      <ChartCanvas box={A_BOX} make={makeA} />
      <ChartCanvas box={B1_BOX} make={() => makeB(B1_BOX, B1_AREA, bDiscX, bDiscY, [4.88, 7.52], [-0.073, 1.121], bDiscYTicks, bDiscYLabels)} />
      <ChartCanvas box={B2_BOX} make={() => makeB(B2_BOX, B2_AREA, bValX, bValY, [4.89, 7.545], [-1.78, 2.61], bValYTicks, bValYLabels)} />
      <ChartCanvas box={C_BOX} make={makeC} />
      <ChartCanvas box={D_BOX} make={makeD} />
      <ChartCanvas box={E_BOX} make={makeE} />
      <ChartCanvas box={F_BOX} make={makeF} />
      <ChartCanvas box={G_AREAS[0].box} make={() => makeG(0, gNcihMean, gNcihLo, gNcihHi, gNcihFitX, gNcihFitY)} />
      <ChartCanvas box={G_AREAS[1].box} make={() => makeG(1, gJhhMean, gJhhLo, gJhhHi, gJhhFitX, gJhhFitY)} />
      <ChartCanvas box={G_AREAS[2].box} make={() => makeG(2, gIgrMean, gIgrLo, gIgrHi, gIgrFitX, gIgrFitY)} />

      <Txt x={12} y={11} s={19} b>a</Txt>
      <Txt x={492} y={13} s={19} b>b</Txt>
      <Txt x={15} y={334} s={19} b>c</Txt>
      <Txt x={212} y={332} s={19} b>d</Txt>
      <Txt x={559} y={333} s={19} b>e</Txt>
      <Txt x={17} y={613} s={19} b>f</Txt>
      <Txt x={20} y={836} s={19} b>g</Txt>

      <Txt x={26} y={137} s={13} r={-90}>Kynurenine levels (log<Sub c="10" />)</Txt>

      <Txt x={574} y={12} s={13}>Discovery set</Txt>
      <Txt x={580} y={32} s={13}>cor=0.72, p=1.4*10<Sup c="-8" /></Txt>
      <Txt x={733} y={12} s={13}>Validation set</Txt>
      <Txt x={728} y={32} s={13}>cor=0.85, p=2.7*10<Sup c="-5" /></Txt>
      <Txt x={489} y={135} s={11} r={-90}>Kynurenine secretion (arbitrary unit)</Txt>
      <Txt x={648} y={140} s={11} r={-90}>Kynurenine secretion (μM/mg protein, log10)</Txt>
      <Txt x={658} y={267} s={13}>Intracellular kynurenine levels (log10)</Txt>

      <Txt x={12} y={432} s={13} r={-90}>t-statistics</Txt>
      <Txt x={118} y={565} s={13.5}>mRNA correlations with</Txt>
      <Txt x={118} y={581} s={13.5}>kynurenine levels</Txt>

      <Txt x={211} y={452} s={13} r={-90}>mRNA levels of <i>TDO</i> (log<Sub c="2" /> RPKM)</Txt>
      <Txt x={370} y={601} s={13}>mRNA levels of <i>IDO1</i> (log<Sub c="2" /> RPKM)</Txt>
      <Txt x={547} y={470} s={13} r={-90}>Kynurenine levels (log<Sub c="10" />)</Txt>

      <Txt x={682} y={365} s={14}>Classification of cell lines with</Txt>
      <Txt x={684} y={381} s={14}>high levels of kynurenine</Txt>

      <Txt x={14} y={699} s={13} r={-90}>Proportions</Txt>

      <Txt x={173} y={848} s={13}>NCIH596 (IDO1<Sup c="high" />)</Txt>
      <Txt x={408} y={848} s={13}>JHH7 (TDO<Sup c="high" />)</Txt>
      <Txt x={675} y={848} s={13}>IGR39 (IDO1<Sup c="high" />+TDO<Sup c="high" />)</Txt>
      <Txt x={32} y={920} s={13.5} r={-90}>Kynurenine (μM)</Txt>
      <Txt x={282} y={920} s={13.5} r={-90}>Kynurenine (μM)</Txt>
      <Txt x={534} y={920} s={13.5} r={-90}>Kynurenine (μM)</Txt>
      <Txt x={158} y={1005} s={13.5}>Epacadostat (μM)</Txt>
      <Txt x={404} y={1005} s={13.5}>Epacadostat (μM)</Txt>
      <Txt x={660} y={1005} s={13.5}>Epacadostat (μM)</Txt>
    </div>
  );
}
